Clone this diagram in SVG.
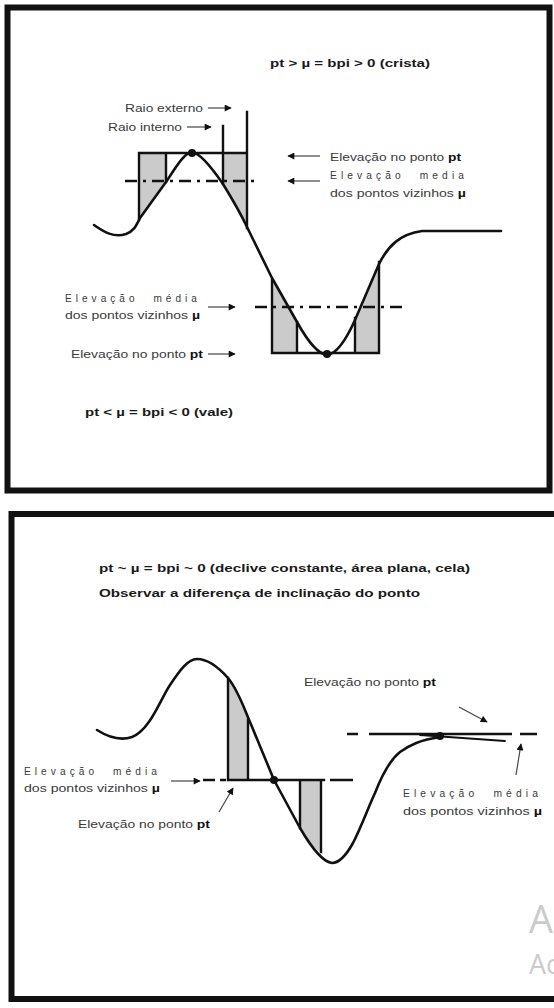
<svg xmlns="http://www.w3.org/2000/svg" width="554" height="1008" viewBox="0 0 554 1008">
<style>
.frame{fill:none;stroke:#111;stroke-width:6}
.curve{fill:none;stroke:#111;stroke-width:2.6;stroke-linejoin:round;stroke-linecap:round}
.bar{fill:none;stroke:#111;stroke-width:2.4;stroke-linecap:square}
.shade{fill:#cbcbcb;stroke:none}
.dashdot{fill:none;stroke:#111;stroke-width:2.4;stroke-dasharray:12 6 3 6}
.dash{fill:none;stroke:#111;stroke-width:2.4}
.arr{fill:none;stroke:#444;stroke-width:1.2}
.lbl{font-family:"Liberation Sans",Arial,sans-serif;font-size:10px;fill:#3a3a3a}
.sp{letter-spacing:4px;word-spacing:8px}
.ttl{font-family:"Liberation Sans",Arial,sans-serif;font-size:11px;font-weight:bold;fill:#1a1a1a}
.b{font-weight:bold;fill:#111}
.wm{font-family:"Open Sans","Noto Sans",sans-serif;fill:#cbcbcb}
</style>
<defs>
<marker id="ah" viewBox="0 0 10 10" refX="9" refY="5" markerWidth="8" markerHeight="7" markerUnits="userSpaceOnUse" orient="auto">
<path d="M0,0 L10,5 L0,10 z" fill="#111"/>
</marker>
</defs>
<rect width="554" height="1008" fill="#fff"/>

<g id="panel-top">
<rect class="frame" x="7.5" y="7.5" width="542" height="483"/>
<g id="crest">
<path class="shade" d="M139,153 L166,153 L166,182 L139,220 z"/>
<path class="shade" d="M223,153 L247,153 L247,228 C240,212 231,197 223,184 z"/>
<path class="dashdot" d="M125,181 L257,181"/>
<path class="bar" d="M139,220 L139,153 L247,153 M166,153 L166,182 M223,126 L223,184 M247,112 L247,228"/>
</g>
<g id="valley">
<path class="shade" d="M272,280 L297,322 L297,353 L272,353 z"/>
<path class="shade" d="M355,318 L379,264 L379,353 L355,353 z"/>
<path class="dashdot" d="M255,307 L406,307"/>
<path class="bar" d="M272,280 L272,353 L379,353 L379,262 M297,322 L297,353 M355,318 L355,353"/>
</g>
<path id="profile-top" class="curve" d="M94,225 C104,232 114,238 126,234 C134,231 136,226 140,218 L166,182 C176,167 184,153 192,152 C200,153 212,168 223,184 C231,197 240,212 247,227 L272,278 L297,322 C307,340 318,354 327,355 C336,354 346,340 355,320 L379,264 C388,246 400,234 422,231 L501,231"/>
<circle cx="192" cy="153" r="4" fill="#111"/>
<circle cx="327" cy="354" r="4" fill="#111"/>
<g id="labels-top">
<text class="ttl" x="270" y="67" textLength="160" lengthAdjust="spacingAndGlyphs">pt &gt; µ = bpi &gt; 0 (crista)</text>
<text class="lbl" x="125" y="111.5" textLength="78" lengthAdjust="spacingAndGlyphs">Raio externo</text>
<text class="lbl" x="108" y="130.5" textLength="74" lengthAdjust="spacingAndGlyphs">Raio interno</text>
<text class="lbl" x="330" y="160.5" textLength="131" lengthAdjust="spacingAndGlyphs">Elevação no ponto <tspan class="b">pt</tspan></text>
<text class="lbl sp" x="330" y="178.5" textLength="138" lengthAdjust="spacingAndGlyphs">Elevação media</text>
<text class="lbl" x="330" y="196.5" textLength="136" lengthAdjust="spacingAndGlyphs">dos pontos vizinhos <tspan class="b">µ</tspan></text>
<text class="lbl sp" x="65" y="301.5" textLength="136" lengthAdjust="spacingAndGlyphs">Elevação média</text>
<text class="lbl" x="65" y="318.5" textLength="135" lengthAdjust="spacingAndGlyphs">dos pontos vizinhos <tspan class="b">µ</tspan></text>
<text class="lbl" x="71" y="357.5" textLength="132" lengthAdjust="spacingAndGlyphs">Elevação no ponto <tspan class="b">pt</tspan></text>
<text class="ttl" x="85" y="416" textLength="148" lengthAdjust="spacingAndGlyphs">pt &lt; µ = bpi &lt; 0 (vale)</text>
</g>
</g>

<g id="panel-bottom">
<rect class="frame" x="11.5" y="514" width="560" height="485"/>
<g id="slope-bars">
<path class="shade" d="M228,678 C236,689 243,706 248,720 L248,780 L228,780 z"/>
<path class="shade" d="M300,828 C307,840 314,848 321,853 L321,780 L300,780 z"/>
<path class="dash" d="M203,780 L215,780 M220,780 L226,780 M330,780 L353,780"/>
<path class="bar" d="M228,678 L228,780 L324,780 M248,720 L248,780 M300,780 L300,828 M321,780 L321,852"/>
</g>
<g id="flat">
<path class="dash" d="M347,734 L358,734 M369,734 L512,734 M520,734 L537,734"/>
<path class="curve" style="stroke-width:1.8" d="M420,735 L505,741"/>
</g>
<path id="profile-bottom" class="curve" d="M97,730 C108,737 120,741 132,737 C150,730 160,700 170,685 C180,670 188,659 197,659 C208,659 220,669 228,678 C238,690 244,708 250,722 L274,780 L300,828 C310,845 322,862 332,863 C340,863 348,852 353,843 C362,825 368,808 375,793 C382,775 390,760 400,752 C410,745 420,740 440,737"/>
<circle cx="274" cy="780" r="4" fill="#111"/>
<circle cx="440" cy="736" r="4" fill="#111"/>
<g id="labels-bottom">
<text class="ttl" x="99" y="572" textLength="371" lengthAdjust="spacingAndGlyphs">pt ~ µ = bpi ~ 0 (declive constante, área plana, cela)</text>
<text class="ttl" x="99" y="597" textLength="321" lengthAdjust="spacingAndGlyphs">Observar a diferença de inclinação do ponto</text>
<text class="lbl" x="304" y="685.5" textLength="132" lengthAdjust="spacingAndGlyphs">Elevação no ponto <tspan class="b">pt</tspan></text>
<text class="lbl sp" x="24" y="774.5" textLength="137" lengthAdjust="spacingAndGlyphs">Elevação média</text>
<text class="lbl" x="24" y="791.5" textLength="136" lengthAdjust="spacingAndGlyphs">dos pontos vizinhos <tspan class="b">µ</tspan></text>
<text class="lbl" x="78" y="827.5" textLength="132" lengthAdjust="spacingAndGlyphs">Elevação no ponto <tspan class="b">pt</tspan></text>
<text class="lbl sp" x="403" y="796.5" textLength="139" lengthAdjust="spacingAndGlyphs">Elevação média</text>
<text class="lbl" x="403" y="814.5" textLength="139" lengthAdjust="spacingAndGlyphs">dos pontos vizinhos <tspan class="b">µ</tspan></text>
</g>
</g>

<g id="connectors">
<path class="arr" d="M208,108 L231,108" marker-end="url(#ah)"/>
<path class="arr" d="M187,127 L211,127" marker-end="url(#ah)"/>
<path class="arr" d="M320,156 L288,156" marker-end="url(#ah)"/>
<path class="arr" d="M320,181 L288,181" marker-end="url(#ah)"/>
<path class="arr" d="M208,307 L235,307" marker-end="url(#ah)"/>
<path class="arr" d="M208,354 L235,354" marker-end="url(#ah)"/>
<path class="arr" d="M459,707 L487,722" marker-end="url(#ah)"/>
<path class="arr" d="M516,775 L521,744" marker-end="url(#ah)"/>
<path class="arr" d="M171,781 L200,781" marker-end="url(#ah)"/>
<path class="arr" d="M219,812 L233,788" marker-end="url(#ah)"/>
</g>

<g id="watermark">
<text class="wm" x="529" y="933" font-size="38">A</text>
<text class="wm" x="529" y="974" font-size="27">Ac</text>
</g>
</svg>
